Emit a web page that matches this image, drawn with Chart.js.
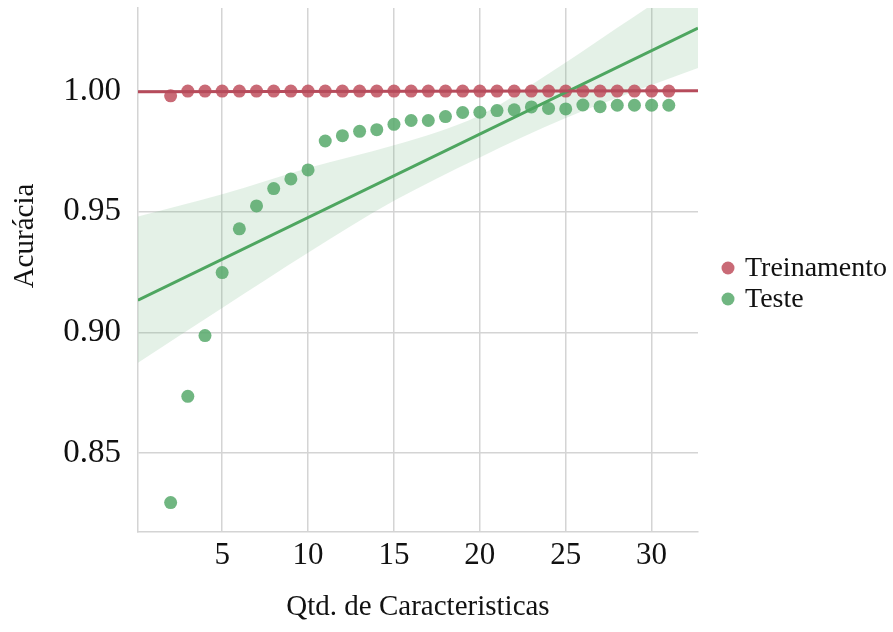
<!DOCTYPE html>
<html>
<head>
<meta charset="utf-8">
<style>
  html, body { margin: 0; padding: 0; background: #ffffff; }
  canvas { display: block; }
</style>
<script src="https://cdn.jsdelivr.net/npm/chart.js@4.4.1/dist/chart.umd.min.js"></script>
</head>
<body>
<canvas id="chart" width="893" height="632"></canvas>
<script>
// Number of features used by the model
const features = [2, 3, 4, 5, 6, 7, 8, 9, 10, 11, 12, 13, 14, 15, 16,
                  17, 18, 19, 20, 21, 22, 23, 24, 25, 26, 27, 28, 29, 30, 31];

// Accuracy on the training set
const trainAcc = [0.998, 1.000, 1.000, 1.000, 1.000, 1.000, 1.000, 1.000, 1.000, 1.000,
                  1.000, 1.000, 1.000, 1.000, 1.000, 1.000, 1.000, 1.000, 1.000, 1.000,
                  1.000, 1.000, 1.000, 1.000, 1.000, 1.000, 1.000, 1.000, 1.000, 1.000];

// Accuracy on the test set
const testAcc = [0.8295, 0.8735, 0.8987, 0.9248, 0.9429, 0.9524, 0.9596, 0.9636, 0.9673, 0.9793,
                 0.9815, 0.9833, 0.9840, 0.9862, 0.9878, 0.9878, 0.9894, 0.9911, 0.9912, 0.9919,
                 0.9922, 0.9934, 0.9928, 0.9926, 0.9942, 0.9935, 0.9941, 0.9941, 0.9941, 0.9941];

// 95% confidence band of the test-set trend line
const bandX    = [0.1,    5,      10,     15,     20,     25,     28,     30,     32.7];
const bandLow  = [0.8874, 0.9101, 0.9330, 0.9545, 0.9725, 0.9888, 0.9972, 1.0025, 1.0095];
const bandHigh = [0.9480, 0.9572, 0.9681, 0.9775, 0.9900, 1.0118, 1.0262, 1.0357, 1.0490];

// Axis ticks and limits
const xTicks = [5, 10, 15, 20, 25, 30];
const yTicks = [0.85, 0.90, 0.95, 1.00];
const xMin = 0.1, xMax = 32.7;
const yMin = 0.8173, yMax = 1.0344;

const FONT = 'Liberation Serif, "Times New Roman", serif';
const TEXT = '#111111';
const GRID = '#d4d4d4';

const RED_LINE = '#b64b5b';
const RED_DOT = 'rgba(192, 82, 96, 0.86)';
const GREEN_LINE = '#4ea660';
const GREEN_DOT = 'rgba(88, 170, 108, 0.86)';
const GREEN_BAND = 'rgba(85, 168, 104, 0.16)';

// Least-squares trend line across the full x range
function trendLine(xs, ys) {
  const n = xs.length;
  const mx = xs.reduce((a, b) => a + b, 0) / n;
  const my = ys.reduce((a, b) => a + b, 0) / n;
  let sxy = 0, sxx = 0;
  for (let i = 0; i < n; i++) {
    sxy += (xs[i] - mx) * (ys[i] - my);
    sxx += (xs[i] - mx) * (xs[i] - mx);
  }
  const slope = sxy / sxx;
  return [xMin, xMax].map(x => ({ x: x, y: my + slope * (x - mx) }));
}

const points = (xs, ys) => xs.map((x, i) => ({ x: x, y: ys[i] }));

// Axis titles and legend
const decorations = {
  id: 'decorations',
  afterDraw(chart) {
    const ctx = chart.ctx;
    const area = chart.chartArea;
    ctx.save();
    ctx.fillStyle = TEXT;
    ctx.font = '29px ' + FONT;
    ctx.textAlign = 'center';
    ctx.textBaseline = 'middle';
    ctx.fillText('Qtd. de Caracteristicas', (area.left + area.right) / 2, 607);

    ctx.save();
    ctx.translate(25, 236);
    ctx.rotate(-Math.PI / 2);
    ctx.fillText('Acurácia', 0, 0);
    ctx.restore();

    const entries = [
      { label: 'Treinamento', color: RED_DOT, y: 268 },
      { label: 'Teste', color: GREEN_DOT, y: 299 }
    ];
    ctx.font = '28px ' + FONT;
    ctx.textAlign = 'left';
    entries.forEach(e => {
      ctx.beginPath();
      ctx.fillStyle = e.color;
      ctx.arc(728, e.y, 6.5, 0, Math.PI * 2);
      ctx.fill();
      ctx.fillStyle = TEXT;
      ctx.fillText(e.label, 745, e.y + 1);
    });
    ctx.restore();
  }
};

// Keep the plot area fixed: no extra room for half tick labels
function noEdgePadding(s) {
  s.paddingTop = 0; s.paddingBottom = 0;
  s.paddingLeft = 0; s.paddingRight = 0;
}

new Chart(document.getElementById('chart'), {
  type: 'scatter',
  data: {
    datasets: [
      {
        type: 'line', label: 'Treinamento (tendência)',
        data: trendLine(features, trainAcc),
        borderColor: RED_LINE, borderWidth: 3, pointRadius: 0, fill: false, order: 0
      },
      {
        type: 'line', label: 'Teste (tendência)',
        data: trendLine(features, testAcc),
        borderColor: GREEN_LINE, borderWidth: 3, pointRadius: 0, fill: false, order: 0
      },
      {
        label: 'Treinamento',
        data: points(features, trainAcc),
        backgroundColor: RED_DOT, borderWidth: 0, pointRadius: 6.5, order: 1
      },
      {
        label: 'Teste',
        data: points(features, testAcc),
        backgroundColor: GREEN_DOT, borderWidth: 0, pointRadius: 6.5, order: 1
      },
      {
        type: 'line', label: 'IC inferior',
        data: points(bandX, bandLow),
        borderWidth: 0, borderColor: 'rgba(0,0,0,0)', pointRadius: 0,
        cubicInterpolationMode: 'monotone', fill: false, order: 2
      },
      {
        type: 'line', label: 'IC superior',
        data: points(bandX, bandHigh),
        borderWidth: 0, borderColor: 'rgba(0,0,0,0)', pointRadius: 0,
        cubicInterpolationMode: 'monotone', fill: '-1', backgroundColor: GREEN_BAND, order: 2
      }
    ]
  },
  options: {
    responsive: false,
    animation: false,
    devicePixelRatio: 1,
    layout: { padding: { top: 8, right: 195, left: 0, bottom: 0 } },
    plugins: {
      legend: { display: false },
      tooltip: { enabled: false }
    },
    scales: {
      x: {
        type: 'linear',
        min: xMin, max: xMax,
        afterBuildTicks: s => { s.ticks = xTicks.map(v => ({ value: v })); },
        afterFit: s => { s.height = 100; noEdgePadding(s); },
        grid: { color: GRID, lineWidth: 1.5, drawTicks: false },
        border: { display: true, color: GRID, width: 1.5 },
        ticks: {
          font: { family: FONT, size: 31 }, color: TEXT, padding: 5,
          maxRotation: 0, autoSkip: false,
          callback: v => String(v)
        }
      },
      y: {
        type: 'linear',
        min: yMin, max: yMax,
        afterBuildTicks: s => { s.ticks = yTicks.map(v => ({ value: v })); },
        afterFit: s => { s.width = 138; noEdgePadding(s); },
        grid: { color: GRID, lineWidth: 1.5, drawTicks: false },
        border: { display: true, color: GRID, width: 1.5 },
        ticks: {
          font: { family: FONT, size: 33 }, color: TEXT, padding: 17,
          autoSkip: false,
          callback: v => v.toFixed(2)
        }
      }
    }
  },
  plugins: [decorations]
});
</script>
</body>
</html>
